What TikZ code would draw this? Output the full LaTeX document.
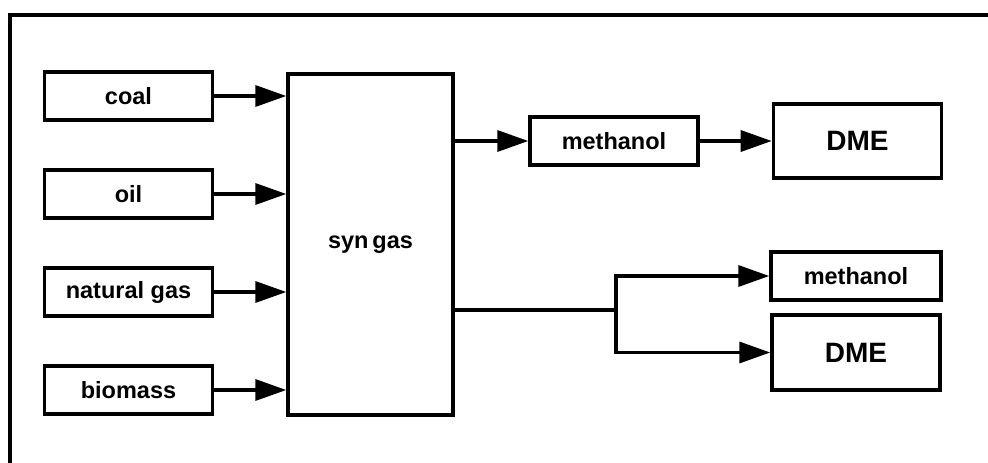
\documentclass[tikz,border=0pt]{standalone}
\usepackage{fontspec}
\setmainfont{Liberation Sans}
\usetikzlibrary{positioning, arrows.meta}

\begin{document}
\begin{tikzpicture}[x=1pt,y=-1pt,->,>={Triangle[length=31pt,width=21pt]},line width=3.4pt,node distance=98pt,
    box/.style={draw,rectangle,minimum width=168pt,minimum height=48pt,inner sep=0pt,font=\bfseries\fontsize{23.5}{28}\selectfont},
    bigbox/.style={box,minimum height=74pt,font=\bfseries\fontsize{28}{34}\selectfont}]
      \useasboundingbox (0,0) rectangle (988,463);
      \draw[-] (990,15) -- (10,15) -- (10,465);

      \node[box] (coal) at (128.5,96) {coal};
      \node[box] (oil) [below of=coal] {oil};
      \node[box] (gas) [below of=oil] {natural gas};
      \node[box] (bio) [below of=gas] {biomass};

      \node[box, minimum width=165pt, minimum height=341pt] (syngas) at (370.5,244.5) {syn\,gas};

      \node[box] (meth1) at (614,141) {methanol};
      \node[bigbox] (dme1) [right=72pt of meth1] {DME};
      \node[box, minimum width=170pt] (meth2) at (856,276) {methanol};
      \node[bigbox, minimum height=75pt] (dme2) at (856,352.5) {DME};
      \coordinate (split) at (616,310);

      \foreach \src in {coal,oil,gas,bio}
        \draw (\src) -- (\src -| syngas.west);
      \draw (meth1 -| syngas.east) -- (meth1);
      \draw (meth1) -- (dme1);
      \draw[-] (split -| syngas.east) -- (split);
      \draw (split) |- (meth2);
      \draw (split) |- (dme2);
    \end{tikzpicture}
\end{document}
